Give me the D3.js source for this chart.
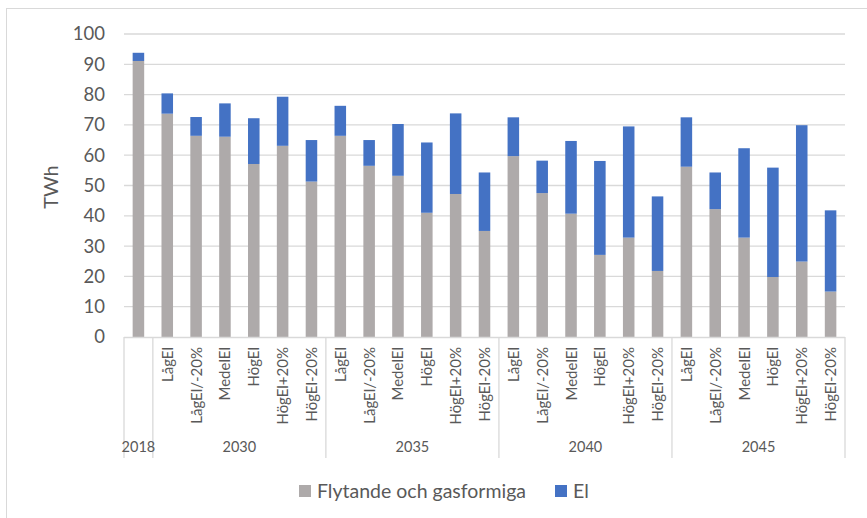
<!DOCTYPE html>
<html>
<head>
<meta charset="utf-8">
<script src="https://cdn.jsdelivr.net/npm/d3@7"></script>
<style>
  body { margin: 0; background: #fff; }
  svg { font-family: Lato, "Open Sans", sans-serif; }
</style>
</head>
<body>
<div id="chart"></div>
<script>
// Data
const years = ["2018", "2030", "2035", "2040", "2045"];
const scenarios = ["LågEl", "LågEl/-20%", "MedelEl", "HögEl", "HögEl+20%", "HögEl-20%"];
const categories = [
  {year: "2018", label: ""},
  ...["2030", "2035", "2040", "2045"].flatMap(y => scenarios.map(s => ({year: y, label: s})))
];
const fuel = [91.1,
  73.7, 66.4, 66.1, 57.1, 63.1, 51.3,
  66.4, 56.5, 53.2, 41.0, 47.2, 35.0,
  59.7, 47.5, 40.7, 27.1, 32.8, 21.8,
  56.2, 42.2, 32.8, 19.8, 24.9, 15.0];
const el = [2.7,
  6.7, 6.2, 11.0, 15.1, 16.2, 13.7,
  9.9, 8.5, 17.1, 23.2, 26.6, 19.3,
  12.8, 10.7, 24.0, 31.0, 36.7, 24.6,
  16.3, 12.1, 29.5, 36.1, 45.0, 26.8];
const seriesNames = ["Flytande och gasformiga", "El"];
const colors = ["#AEAAAA", "#4472C4"];
const yTicks = d3.range(0, 101, 10);

const W = 867, H = 518;
const margin = {top: 34, right: 22, bottom: 181, left: 124};
const width = W - margin.left - margin.right;
const height = H - margin.top - margin.bottom;

const svg = d3.select("#chart").append("svg")
  .attr("width", W).attr("height", H);

// chart border (only top/left visible in frame)
svg.append("rect")
  .attr("x", 6.5).attr("y", 8.5)
  .attr("width", 880).attr("height", 540)
  .attr("fill", "none").attr("stroke", "#D9D9D9");

const g = svg.append("g").attr("transform", `translate(${margin.left},${margin.top})`);

const keys = categories.map((c, i) => i);
const x = d3.scaleBand().domain(keys).range([0, width]).paddingInner(0.6).paddingOuter(0.3);
const y = d3.scaleLinear().domain([0, 100]).range([height, 0]);

// gridlines
g.selectAll(".grid").data(yTicks.filter(t => t > 0)).enter().append("line")
  .attr("x1", 0).attr("x2", width)
  .attr("y1", d => y(d)).attr("y2", d => y(d))
  .attr("stroke", "#D9D9D9").attr("stroke-width", 1.3);

// y tick labels
g.selectAll(".ytick").data(yTicks).enter().append("text")
  .attr("x", -19).attr("y", d => y(d))
  .attr("dy", "0.35em")
  .attr("text-anchor", "end")
  .attr("font-size", 18.5)
  .attr("fill", "#595959")
  .text(d => d);

// y axis title
svg.append("text")
  .attr("transform", "translate(58,187) rotate(-90)")
  .attr("text-anchor", "middle")
  .attr("font-size", 20)
  .attr("fill", "#595959")
  .text("TWh");

// stacked bars
const rows = categories.map((c, i) => ({i, fuel: fuel[i], el: el[i]}));
const stacked = d3.stack().keys(["fuel", "el"])(rows);
g.selectAll(".layer").data(stacked).enter().append("g")
  .attr("fill", (d, i) => colors[i])
  .selectAll("rect").data(d => d).enter().append("rect")
  .attr("x", d => x(d.data.i))
  .attr("width", x.bandwidth())
  .attr("y", d => y(d[1]))
  .attr("height", d => y(d[0]) - y(d[1]));

// category axis
const step = x.step();
const catLeft = i => i * step;
g.append("line")
  .attr("x1", 0).attr("x2", width)
  .attr("y1", height + 0.5).attr("y2", height + 0.5)
  .attr("stroke", "#D9D9D9").attr("stroke-width", 1.3);

// group separators
const groupBounds = [];
let start = 0;
years.forEach(yr => {
  const n = categories.filter(c => c.year === yr).length;
  groupBounds.push({year: yr, start, end: start + n});
  start += n;
});
const sepIdx = [0, ...groupBounds.map(b => b.end)];
g.selectAll(".sep").data(sepIdx).enter().append("line")
  .attr("x1", d => catLeft(d)).attr("x2", d => catLeft(d))
  .attr("y1", height).attr("y2", height + 121)
  .attr("stroke", "#D9D9D9").attr("stroke-width", 1.3);

// scenario labels
g.selectAll(".cat").data(categories.map((c, i) => ({...c, i})).filter(c => c.label)).enter().append("text")
  .attr("transform", d => `translate(${x(d.i) + x.bandwidth() / 2 + 5.5},${height + 10}) rotate(-90)`)
  .attr("text-anchor", "end")
  .attr("font-size", 15)
  .attr("fill", "#595959")
  .text(d => d.label);

// year labels
g.selectAll(".yr").data(groupBounds).enter().append("text")
  .attr("x", d => (catLeft(d.start) + catLeft(d.end)) / 2)
  .attr("y", height + 115)
  .attr("text-anchor", "middle")
  .attr("font-size", 14.5)
  .attr("fill", "#595959")
  .text(d => d.year);

// legend
const legend = svg.append("g").attr("transform", "translate(299,491)");
const legendX = [0, 256];
seriesNames.forEach((name, i) => {
  const lg = legend.append("g").attr("transform", `translate(${legendX[i]},0)`);
  lg.append("rect").attr("x", 0).attr("y", -6).attr("width", 12).attr("height", 12).attr("fill", colors[i]);
  lg.append("text").attr("x", 18).attr("y", 0).attr("dy", "0.35em")
    .attr("font-size", 19.5).attr("fill", "#595959").text(name);
});
</script>
</body>
</html>
